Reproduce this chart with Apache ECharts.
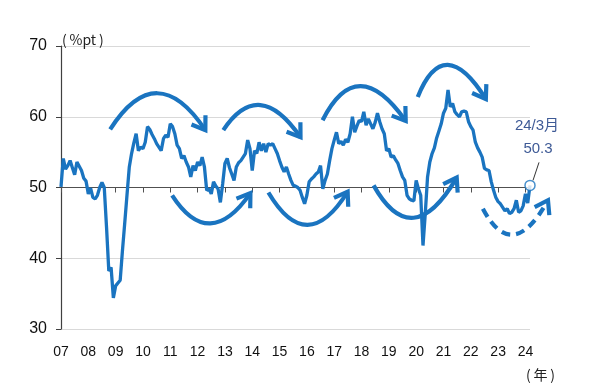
<!DOCTYPE html>
<html>
<head>
<meta charset="utf-8">
<script src="https://cdn.jsdelivr.net/npm/echarts@6/dist/echarts.min.js"></script>
<style>
html,body{margin:0;padding:0;background:#fff;}
#c{width:600px;height:391px;}
</style>
</head>
<body>
<div id="c"></div>
<script>
// ---- data (monthly, Jan 2007 - Mar 2024) ----
const startYear = 2007;
const y2007 = [50.1, 54.1, 52.6, 53.1, 53.8, 52.8, 51.8, 53.6, 53.0, 52.4, 51.3, 50.9];
const y2008 = [49.1, 49.9, 48.6, 48.4, 48.9, 50.0, 50.7, 50.0, 44.4, 38.2, 38.7, 34.4];
const y2009 = [36.1, 36.5, 36.9, 41.1, 45.0, 49.0, 52.9, 54.8, 56.3, 57.6, 55.2, 55.7];
const y2010 = [55.5, 56.4, 58.6, 58.2, 57.5, 56.9, 56.2, 55.7, 55.2, 56.9, 57.4, 57.1];
const y2011 = [59.0, 58.6, 57.6, 56.0, 55.5, 54.1, 54.5, 53.6, 52.9, 51.5, 53.1, 52.4];
const y2012 = [53.6, 53.1, 54.3, 52.9, 49.6, 49.8, 49.1, 50.8, 50.2, 49.8, 47.9, 50.5];
const y2013 = [53.4, 54.1, 52.8, 51.9, 51.0, 52.9, 53.5, 53.8, 54.3, 54.8, 56.7, 55.5];
const y2014 = [52.4, 55.2, 54.8, 56.4, 55.2, 56.2, 55.0, 56.2, 56.0, 56.2, 55.5, 54.8];
const y2015 = [53.8, 52.9, 52.2, 52.9, 51.9, 51.0, 50.3, 50.2, 50.0, 49.6, 48.6, 47.7];
const y2016 = [48.9, 50.8, 51.2, 51.5, 51.9, 52.2, 53.1, 49.8, 51.0, 51.9, 53.8, 55.5];
const y2017 = [56.7, 57.8, 56.2, 56.5, 56.0, 56.8, 56.4, 57.6, 60.0, 57.8, 58.7, 59.5];
const y2018 = [59.3, 60.7, 58.8, 59.7, 59.0, 58.3, 59.2, 60.5, 59.3, 58.3, 57.6, 55.2];
const y2019 = [55.5, 54.3, 54.5, 53.9, 53.4, 52.4, 51.5, 51.0, 48.9, 48.4, 48.2, 48.1];
const y2020 = [51.0, 49.8, 48.9, 41.8, 46.3, 51.5, 53.6, 54.8, 55.6, 57.0, 58.0, 59.0];
const y2021 = [60.5, 61.2, 63.8, 61.4, 61.9, 60.7, 60.3, 60.0, 60.7, 60.8, 60.7, 59.3];
const y2022 = [58.6, 58.1, 56.4, 55.6, 55.0, 54.3, 52.7, 52.5, 52.4, 50.8, 49.6, 48.6];
const y2023 = [48.0, 47.7, 47.2, 46.7, 47.0, 46.3, 46.5, 47.0, 48.2, 46.5, 46.7, 47.4];
const y2024 = [49.1, 47.8, 50.3];
const yearly = [y2007,y2008,y2009,y2010,y2011,y2012,y2013,y2014,y2015,y2016,y2017,y2018,y2019,y2020,y2021,y2022,y2023,y2024];
const yTicks = [30, 40, 50, 60, 70];

// annotation arrows (month index from Jan 2007, value): start, control, end
const arcsTop = [
  [[21.6, 58.2], [42.0, 68.5], [63.4, 58.1]],
  [[71.3, 58.1], [86.9, 65.7], [105.2, 57.1]],
  [[114.9, 59.5], [130.0, 69.2], [151.4, 59.4]],
  [[156.7, 62.8], [168.1, 72.0], [186.6, 62.5]]
];
const arcsBottom = [
  [[48.8, 48.9], [65.1, 40.8], [83.2, 49.2]],
  [[91.1, 49.3], [108.0, 40.1], [125.9, 49.4]],
  [[137.3, 50.3], [154.2, 40.6], [173.8, 51.4]]
];
const arcDashed = [[185.3, 47.0], [198.3, 39.1], [213.9, 48.2]];

// ---- build ----
const categories = [];
const values = [];
yearly.forEach((arr, yi) => {
  arr.forEach((v, mi) => {
    categories.push((startYear + yi) + '-' + String(mi + 1).padStart(2, '0'));
    values.push(v);
  });
});
const lastIdx = values.length - 1;
const lastCat = categories[lastIdx];
const lastLabel = lastCat.slice(2, 4) + '/' + parseInt(lastCat.slice(5), 10) + '月';

const BLUE = '#1a74c0';
const FONT = '"Liberation Sans", "Noto Sans CJK JP", sans-serif';
const CJK = '"Noto Sans CJK JP", sans-serif';
const yearTick = (i) => i % 12 === 0;

const chart = echarts.init(document.getElementById('c'), null, {renderer: 'canvas'});
const option = {
  animation: false,
  backgroundColor: '#fff',
  grid: {left: 61, right: 70, top: 46, bottom: 62},
  xAxis: [
    {
      type: 'category', data: categories, boundaryGap: false,
      axisLine: {show: false}, axisTick: {show: false},
      axisLabel: {interval: yearTick, formatter: (v) => v.slice(2, 4), margin: 16,
        fontSize: 14, color: '#111', fontFamily: FONT},
      splitLine: {show: false}
    },
    {
      type: 'category', data: categories, boundaryGap: false, position: 'bottom', offset: -141.5,
      axisLine: {show: true, lineStyle: {color: '#505050', width: 1.2}},
      axisTick: {show: true, interval: yearTick, length: 5, lineStyle: {color: '#505050'}},
      axisLabel: {show: false}, splitLine: {show: false}
    }
  ],
  yAxis: {
    type: 'value', min: yTicks[0], max: yTicks[yTicks.length - 1], interval: 10,
    axisLine: {show: true, lineStyle: {color: '#404040', width: 1.2}},
    axisTick: {show: true, length: 5, lineStyle: {color: '#404040'}},
    axisLabel: {margin: 14, fontSize: 16, color: '#111', fontFamily: FONT},
    splitLine: {show: true, lineStyle: {color: '#d9d9d9', width: 1}}
  },
  series: [
    {
      type: 'line', data: values, xAxisIndex: 0, yAxisIndex: 0,
      showSymbol: false, symbol: 'none',
      lineStyle: {color: BLUE, width: 3.3}, z: 3
    },
    {
      type: 'scatter', xAxisIndex: 0, yAxisIndex: 0,
      data: [[lastIdx, values[lastIdx]]],
      symbol: 'circle', symbolSize: 10,
      itemStyle: {color: '#fff', borderColor: BLUE, borderWidth: 1.5}, z: 5
    }
  ]
};
chart.setOption(option);

function drawAnnotations() {
  const p0 = chart.convertToPixel({xAxisIndex: 0, yAxisIndex: 0}, [0, 50]);
  const p1 = chart.convertToPixel({xAxisIndex: 0, yAxisIndex: 0}, [lastIdx, 50]);
  const X = (m) => p0[0] + (p1[0] - p0[0]) * m / lastIdx;
  const Y = (v) => chart.convertToPixel({yAxisIndex: 0}, v);
  const P = (pt) => [X(pt[0]), Y(pt[1])];
  const g = [];
  const arrow = (arc, dashed) => {
    const a = P(arc[0]), c = P(arc[1]), b = P(arc[2]);
    g.push({
      type: 'bezierCurve', z: 10, silent: true,
      shape: {x1: a[0], y1: a[1], cpx1: c[0], cpy1: c[1], x2: b[0], y2: b[1]},
      style: {stroke: BLUE, lineWidth: 4.2, fill: null, lineDash: dashed ? [9, 6] : null, lineCap: 'butt'}
    });
    let dx = b[0] - c[0], dy = b[1] - c[1];
    const len = Math.hypot(dx, dy); dx /= len; dy /= len;
    const L = 15, th = 34 * Math.PI / 180;
    const arm = (s) => {
      const cs = Math.cos(s * th), sn = Math.sin(s * th);
      const rx = dx * cs - dy * sn, ry = dx * sn + dy * cs;
      return [b[0] - L * rx, b[1] - L * ry];
    };
    g.push({
      type: 'polyline', z: 10, silent: true,
      shape: {points: [arm(1), b, arm(-1)]},
      style: {stroke: BLUE, lineWidth: 4.2, fill: null, lineJoin: 'miter'}
    });
  };
  arcsTop.forEach((a) => arrow(a, false));
  arcsBottom.forEach((a) => arrow(a, false));
  arrow(arcDashed, true);

  const lp = P([lastIdx, values[lastIdx]]);
  g.push({type: 'line', z: 11, silent: true,
    shape: {x1: lp[0] + 3, y1: lp[1] - 5, x2: lp[0] + 9, y2: lp[1] - 23},
    style: {stroke: '#333', lineWidth: 1}});
  g.push({type: 'text', z: 11, silent: true,
    style: {text: values[lastIdx].toFixed(1), x: lp[0] + 8, y: lp[1] - 37,
      align: 'center', verticalAlign: 'middle', textAlign: 'center', textVerticalAlign: 'middle',
      fill: '#3e5a96', font: '15px ' + FONT}});
  g.push({type: 'text', z: 11, silent: true,
    style: {text: lastLabel, x: lp[0] + 7, y: lp[1] - 60,
      align: 'center', verticalAlign: 'middle', textAlign: 'center', textVerticalAlign: 'middle',
      fill: '#3e5a96', font: '15px ' + FONT}});
  // unit labels
  g.push({type: 'text', z: 11, silent: true,
    style: {text: '(\u2009%pt\u2009)', x: 62, y: 40, align: 'left', verticalAlign: 'middle',
      textAlign: 'left', textVerticalAlign: 'middle', fill: '#222', font: '14px ' + CJK}});
  g.push({type: 'text', z: 11, silent: true,
    style: {text: '(\u2009年\u2009)', x: 526, y: 375, align: 'left', verticalAlign: 'middle',
      textAlign: 'left', textVerticalAlign: 'middle', fill: '#222', font: '14px ' + CJK}});
  chart.setOption({graphic: g});
}
drawAnnotations();
</script>
</body>
</html>
